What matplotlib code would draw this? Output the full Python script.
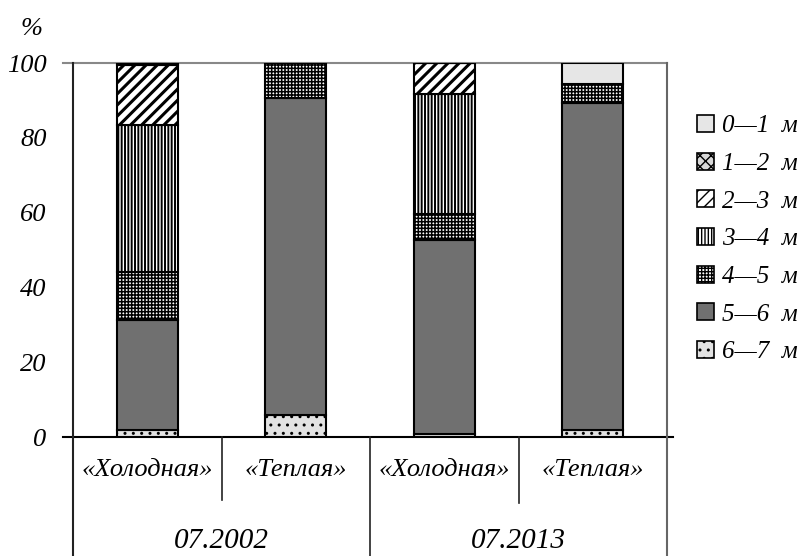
import matplotlib
matplotlib.use("Agg")
import matplotlib.pyplot as plt
from matplotlib.patches import Patch
from matplotlib.lines import Line2D
import numpy as np

plt.rcParams['font.family'] = ['Liberation Serif', 'DejaVu Serif']
plt.rcParams['font.style'] = 'italic'
plt.rcParams['hatch.linewidth'] = 1.0

# Data
categories = ["«Холодная»", "«Теплая»", "«Холодная»", "«Теплая»"]
groups = ["07.2002", "07.2013"]
layers = ["6—7 м", "5—6 м", "4—5 м", "3—4 м", "2—3 м", "1—2 м", "0—1 м"]  # bottom -> top
values = {
    "6—7 м": [1.9, 5.9, 0.8, 1.9],
    "5—6 м": [29.4, 84.8, 51.9, 87.5],
    "4—5 м": [12.7, 9.3, 6.8, 5.1],
    "3—4 м": [39.4, 0.0, 32.1, 0.0],
    "2—3 м": [16.1, 0.0, 8.4, 0.0],
    "1—2 м": [0.5, 0.0, 0.0, 0.0],
    "0—1 м": [0.0, 0.0, 0.0, 5.5],
}
yticks = [0, 20, 40, 60, 80, 100]

styles = {
    "0—1 м": dict(facecolor="#e6e6e6", hatch=None, hlw=1.0),
    "1—2 м": dict(facecolor="#d8d8d8", hatch="xxx", hlw=1.0),
    "2—3 м": dict(facecolor="white", hatch="///", hlw=2.2),
    "3—4 м": dict(facecolor="white", hatch="|||||", hlw=1.4),
    "4—5 м": dict(facecolor="white", hatch="+++++", hlw=1.1),
    "5—6 м": dict(facecolor="#707070", hatch=None, hlw=1.0),
    "6—7 м": dict(facecolor="#e2e2e2", hatch="..", hlw=1.0),
}

fig = plt.figure(figsize=(8.07, 5.56), dpi=100)
ax = fig.add_axes([73/807, 1-437/556, (667-73)/807, (437-63)/556])

x = np.arange(len(categories))
bottom = np.zeros(len(categories))
for name in layers:
    v = np.array(values[name])
    st = styles[name]
    with plt.rc_context({'hatch.linewidth': st["hlw"]}):
        ax.bar(x, v, width=0.41, bottom=bottom, facecolor=st["facecolor"],
               hatch=st["hatch"], edgecolor="black", linewidth=1.5, zorder=3)
    bottom += v

ax.set_xlim(-0.5, 3.5)
ax.set_ylim(0, 100)
ax.set_yticks(yticks)
ax.set_yticklabels([str(t) for t in yticks], fontsize=19)
ax.tick_params(axis='y', length=0, pad=19)
ax.set_xticks([])

for s in ['top', 'right', 'left', 'bottom']:
    ax.spines[s].set_visible(False)

# frame lines
tr = ax.transAxes
ax.add_line(Line2D([-0.017, 1], [1, 1], color="#888888", lw=1.5, transform=tr, clip_on=False))
ax.add_line(Line2D([-0.017, 1.01], [0, 0], color="black", lw=1.5, transform=tr, clip_on=False))
ax.add_line(Line2D([0, 0], [1, -0.32], color="#222222", lw=1.5, transform=tr, clip_on=False))
ax.add_line(Line2D([1, 1], [1, -0.32], color="#666666", lw=1.5, transform=tr, clip_on=False))
ax.add_line(Line2D([0.5, 0.5], [0, -0.32], color="#222222", lw=1.2, transform=tr, clip_on=False))
ax.add_line(Line2D([0.25, 0.25], [0, -0.168], color="#222222", lw=1.2, transform=tr, clip_on=False))
ax.add_line(Line2D([0.75, 0.75], [0, -0.176], color="#222222", lw=1.2, transform=tr, clip_on=False))

for xi, c in zip(x, categories):
    ax.text(xi, -0.088, c, transform=ax.get_xaxis_transform(), ha='center', va='center', fontsize=19)
for gi, g in enumerate(groups):
    ax.text(0.25 + 0.5*gi, -0.278, g, transform=tr, ha='center', va='center', fontsize=21)

fig.text(32/807, 1-29/556, "%", ha='center', va='center', fontsize=19)

handles = []
for n in layers[::-1]:
    with plt.rc_context({'hatch.linewidth': styles[n]["hlw"]}):
        handles.append(Patch(facecolor=styles[n]["facecolor"], hatch=styles[n]["hatch"],
                             edgecolor="black", linewidth=1.2))
leg = fig.legend(handles, [l.replace(" ", "\u2002") for l in layers[::-1]], loc='upper left',
                 bbox_to_anchor=(697/807, 1-115/556),
                 frameon=False, fontsize=18, handlelength=0.66, handleheight=0.66,
                 handletextpad=0.35, labelspacing=0.62, borderaxespad=0, borderpad=0)

fig.savefig("out.png", dpi=100)
